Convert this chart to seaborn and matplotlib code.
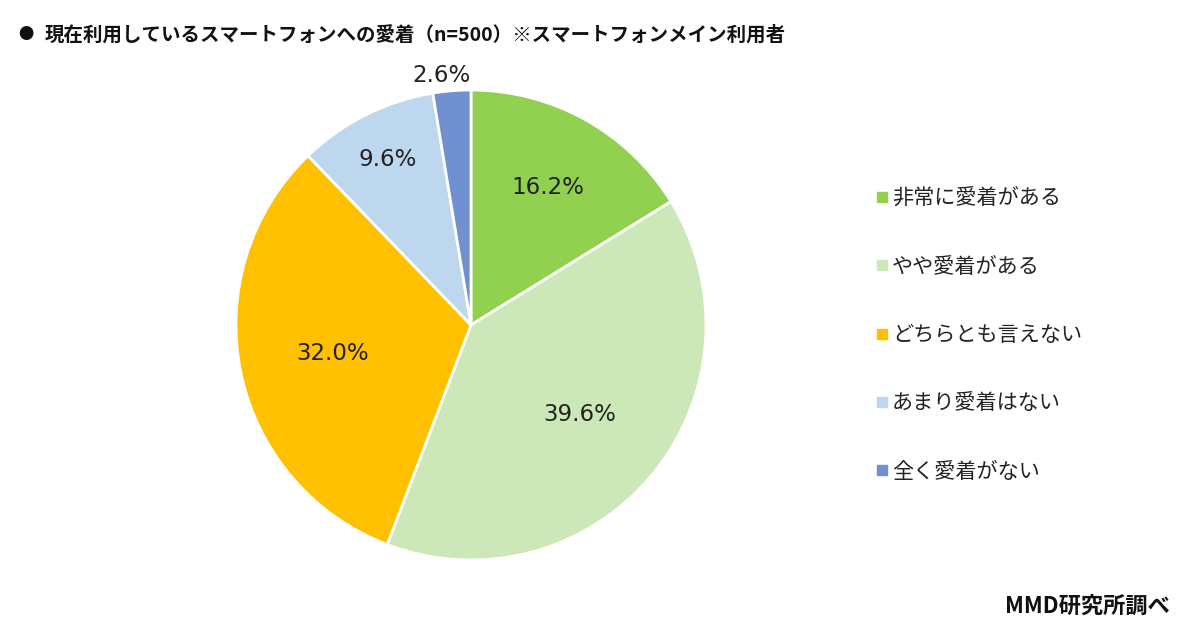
import numpy as np
import matplotlib
matplotlib.use("Agg")
import matplotlib.pyplot as plt
import seaborn as sns
from matplotlib.lines import Line2D

categories = ["非常に愛着がある", "やや愛着がある", "どちらとも言えない", "あまり愛着はない", "全く愛着がない"]
values = [16.2, 39.6, 32.0, 9.6, 2.6]
colors = ["#92D050", "#CDE8B8", "#FFC000", "#BDD7EE", "#7090D2"]
title = "現在利用しているスマートフォンへの愛着（n=500）※スマートフォンメイン利用者"
source = "MMD研究所調べ"

sns.set_theme(style="white")
plt.rcParams['font.family'] = ['Noto Sans CJK JP', 'DejaVu Sans']

fig = plt.figure(figsize=(12, 6.39), dpi=100)
ax = fig.add_axes([(471 - 235) / 1200, (639 - 560) / 639, 470 / 1200, 470 / 639])

wedges, _ = ax.pie(values, colors=colors, startangle=90, counterclock=False,
                   wedgeprops=dict(edgecolor="white", linewidth=2))
ax.set_xlim(-1, 1)
ax.set_ylim(-1, 1)
ax.set_aspect("equal")
ax.axis("off")

# label placement (Excel-like best fit)
dists = [0.67, 0.6, 0.6, 0.79, 1.07]
angle_shift = [0, 0, 0, 0, 2]
cum = 0
for v, d, s in zip(values, dists, angle_shift):
    mid = cum + v / 2
    ang = np.deg2rad(90 - mid / 100 * 360 + s)
    ax.text(d * np.cos(ang), d * np.sin(ang), f"{v:.1f}%", ha="center", va="center",
            fontsize=16.5, color="#222222", family=['DejaVu Sans'])
    cum += v

handles = [Line2D([0], [0], marker="s", linestyle="none", markersize=7,
                  markerfacecolor=c, markeredgecolor=c) for c in colors]
fig.legend(handles, categories, loc="center left", bbox_to_anchor=(0.71, 1 - 335 / 639),
           frameon=False, fontsize=15.2, labelspacing=2.2, handletextpad=0.0,
           handlelength=1.0, labelcolor="#222222")

fig.text(18 / 1200, 1 - 35 / 639, "●", fontsize=11, va="center", ha="left", color="#111111")
fig.text(45 / 1200, 1 - 35 / 639, title, fontsize=14, fontweight="bold", va="center", ha="left",
         color="#111111")
fig.text(1170 / 1200, 1 - 606 / 639, source, fontsize=16, fontweight="bold", va="center",
         ha="right", color="#111111")

fig.savefig("out.png", dpi=100)
